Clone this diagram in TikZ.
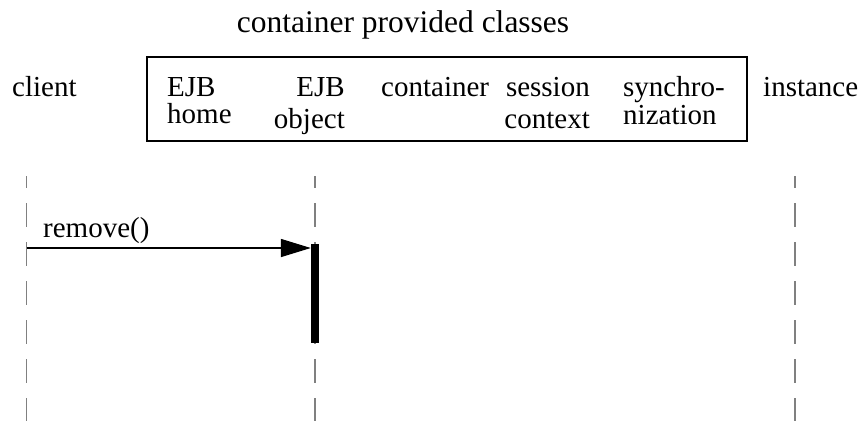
\documentclass[tikz,border=0pt]{standalone}
\usepackage{fontspec}
\setmainfont{Liberation Serif}
\usetikzlibrary{arrows.meta}
\begin{document}
\begin{tikzpicture}[x=1pt, y=-1pt,
    every node/.style={font=\fontsize{29}{24}\selectfont, inner sep=0pt},
    big/.style={font=\fontsize{31.5}{24}\selectfont},
    lifeline/.style={draw=gray, line width=1.5pt, dash pattern=on 24pt off 15pt, dash phase=12pt},
    msg/.style={draw, line width=1.5pt, -{Triangle[length=30pt, width=18pt]}}]
    \useasboundingbox (0,0) rectangle (861,421);
    \node[big, anchor=base] (title) at (403,32) {container provided classes};
    \node[draw, line width=1.5pt, minimum width=600pt, minimum height=84pt] (classes) at (447,99) {};

    \node[anchor=base west] (client) at (12,96) {client};
    \node[anchor=base west] (home) at (167,96) {\begin{tabular}[t]{@{}l@{}}EJB\\home\end{tabular}};
    \node[anchor=base east] (object) at (345,96) {\begin{tabular}[t]{@{}r@{}}EJB\\[5pt]object\end{tabular}};
    \node[anchor=base west] (container) at (381,96) {container};
    \node[anchor=base east] (context) at (590,96) {\begin{tabular}[t]{@{}r@{}}session\\[8pt]context\end{tabular}};
    \node[anchor=base west] (sync) at (623,96) {\begin{tabular}[t]{@{}l@{}}synchro-\\[2pt]nization\end{tabular}};
    \node[anchor=base west] (instance) at (763,96) {instance};

    % lifelines
    \foreach \name/\x in {client/26.5, object/315, instance/795} {
        \coordinate (\name top) at (\x,176);
        \coordinate (\name end) at (\x,421);
        \draw[lifeline] (\name top) -- (\name end);
    }
    \node[fill=black, minimum width=8pt, minimum height=99pt] (bar) at (315,293.5) {};

    \coordinate (call) at (26.5,248);
    \draw[msg] (call) -- (call -| bar.west);
    \node[anchor=base west] (remove) at (43,237) {remove()};
\end{tikzpicture}
\end{document}
